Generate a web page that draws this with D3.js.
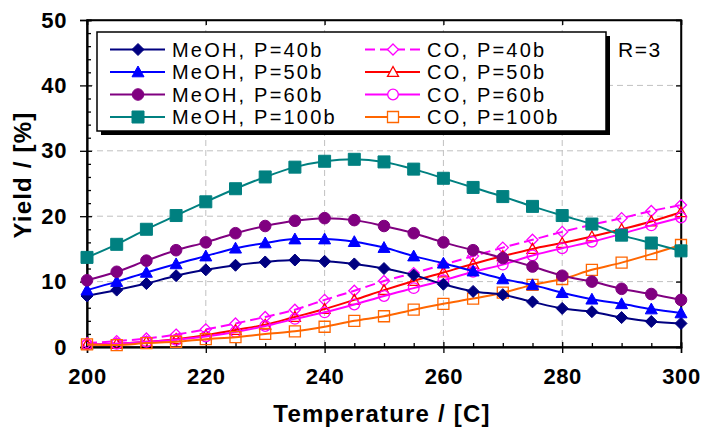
<!DOCTYPE html>
<html>
<head>
<meta charset="utf-8">
<script src="https://cdn.jsdelivr.net/npm/d3@7.9.0/dist/d3.min.js"></script>
<style>
  html, body { margin: 0; padding: 0; background: #fff; }
  text { font-family: Arial, "Liberation Sans", sans-serif; }
</style>
</head>
<body>
<div id="chart"></div>
<script>
// Reaction temperature, C
const temperature = [200, 205, 210, 215, 220, 225, 230, 235, 240, 245, 250,
                     255, 260, 265, 270, 275, 280, 285, 290, 295, 300];

// Methanol yield, %
const meoh40  = [7.8, 8.7, 9.7, 10.9, 11.8, 12.5, 13.0, 13.3, 13.1, 12.7, 12.0,
                 11.0, 9.6, 8.5, 8.0, 6.9, 5.9, 5.4, 4.5, 3.9, 3.6];
const meoh50  = [8.7, 10.0, 11.4, 12.7, 13.9, 15.1, 15.9, 16.5, 16.5, 16.1, 15.2,
                 13.9, 12.8, 11.6, 10.4, 9.5, 8.3, 7.3, 6.6, 5.8, 5.2];
const meoh60  = [10.2, 11.5, 13.2, 14.8, 16.0, 17.4, 18.5, 19.3, 19.7, 19.4, 18.5,
                 17.4, 16.0, 14.8, 13.6, 12.3, 10.9, 10.0, 8.9, 8.1, 7.2];
const meoh100 = [13.7, 15.7, 18.0, 20.1, 22.2, 24.2, 26.0, 27.5, 28.4, 28.7, 28.3,
                 27.2, 25.8, 24.4, 23.0, 21.5, 20.1, 18.8, 17.1, 15.9, 14.7];

// CO yield, %
const co40  = [0.6, 0.9, 1.3, 1.9, 2.7, 3.6, 4.6, 5.7, 7.2, 8.6, 10.1,
               11.3, 12.6, 13.9, 15.2, 16.4, 17.6, 18.7, 19.7, 20.8, 21.7];
const co50  = [0.4, 0.5, 0.8, 1.2, 1.8, 2.6, 3.4, 4.6, 5.8, 7.2, 8.7,
               10.1, 11.4, 12.7, 13.9, 15.0, 15.9, 16.9, 18.0, 19.2, 20.6];
const co60  = [0.4, 0.5, 0.8, 1.1, 1.6, 2.3, 3.2, 4.3, 5.3, 6.5, 7.8,
               9.0, 10.2, 11.5, 12.6, 14.0, 15.1, 16.1, 17.3, 18.6, 19.8];
const co100 = [0.4, 0.3, 0.6, 0.8, 1.2, 1.5, 2.0, 2.4, 3.1, 4.0, 4.7,
               5.7, 6.6, 7.4, 8.3, 9.5, 10.4, 11.8, 12.9, 14.2, 15.6];

const xTicks = [200, 220, 240, 260, 280, 300];
const yTicks = [0, 10, 20, 30, 40, 50];

// drawn CO first so the MeOH markers sit on top, like the original
const series = [
  {name: "CO, P=40b",    values: co40,    color: "#ff00ff", shape: "diamond",  open: true,  dash: "10,5"},
  {name: "CO, P=50b",    values: co50,    color: "#ff0000", shape: "triangle", open: true},
  {name: "CO, P=60b",    values: co60,    color: "#ff00ff", shape: "circle",   open: true},
  {name: "CO, P=100b",   values: co100,   color: "#ff6600", shape: "square",   open: true},
  {name: "MeOH, P=40b",  values: meoh40,  color: "#000080", shape: "diamond"},
  {name: "MeOH, P=50b",  values: meoh50,  color: "#0000ff", shape: "triangle"},
  {name: "MeOH, P=60b",  values: meoh60,  color: "#800080", shape: "circle"},
  {name: "MeOH, P=100b", values: meoh100, color: "#008080", shape: "square"}
];

function markerPath(shape, r) {
  if (shape === "diamond") return `M0,${-r}L${r},0L0,${r}L${-r},0Z`;
  if (shape === "square") return `M${-r},${-r}H${r}V${r}H${-r}Z`;
  if (shape === "triangle") return `M0,${-r}L${r},${r * 0.8}L${-r},${r * 0.8}Z`;
  return d3.arc()({innerRadius: 0, outerRadius: r, startAngle: 0, endAngle: 2 * Math.PI});
}
const markerSize = {diamond: 6, square: 6, triangle: 6, circle: 5.8};
const openSize = {diamond: 5.5, square: 5.5, triangle: 5.5, circle: 5.3};

const margin = {top: 20, right: 20, bottom: 85, left: 87},
    width = 701 - margin.left - margin.right,
    height = 432 - margin.top - margin.bottom;

const svg = d3.select("#chart")
  .append("svg")
    .attr("width", width + margin.left + margin.right)
    .attr("height", height + margin.top + margin.bottom)
  .append("g")
    .attr("transform", `translate(${margin.left}, ${margin.top})`);

const x = d3.scaleLinear().domain([200, 300]).range([0, width]);
const y = d3.scaleLinear().domain([0, 50]).range([height, 0]);

// dashed grid
svg.append("g")
  .selectAll("line")
  .data(yTicks.slice(1, -1))
  .join("line")
    .attr("x1", 0).attr("x2", width)
    .attr("y1", d => y(d)).attr("y2", d => y(d))
    .attr("stroke", "#c0c0c0").attr("stroke-dasharray", "6,4");
svg.append("g")
  .selectAll("line")
  .data(xTicks.slice(1, -1))
  .join("line")
    .attr("y1", 0).attr("y2", height)
    .attr("x1", d => x(d)).attr("x2", d => x(d))
    .attr("stroke", "#c0c0c0").attr("stroke-dasharray", "6,4");

// minor ticks
svg.append("g")
  .attr("transform", `translate(0, ${height})`)
  .call(d3.axisBottom(x).tickValues(d3.range(205, 300, 5).filter(d => d % 20)).tickSize(-4).tickFormat(""));
svg.append("g")
  .call(d3.axisLeft(y).tickValues(d3.range(2, 50, 2).filter(d => d % 10)).tickSize(-4).tickFormat(""));

// major ticks, crossing the axes
svg.append("g")
  .attr("transform", `translate(0, ${height})`)
  .call(d3.axisBottom(x).tickValues(xTicks).tickSize(-5).tickFormat(""));
svg.append("g")
  .call(d3.axisLeft(y).tickValues(yTicks).tickSize(-5).tickFormat(""));
svg.append("g")
  .call(d3.axisTop(x).tickValues(xTicks).tickSize(-5).tickFormat(""));
svg.append("g")
  .attr("transform", `translate(${width}, 0)`)
  .call(d3.axisRight(y).tickValues(yTicks).tickSize(-5).tickFormat(""));

const xAxis = svg.append("g")
  .attr("transform", `translate(0, ${height})`)
  .call(d3.axisBottom(x).tickValues(xTicks).tickSize(6).tickPadding(24));
const yAxis = svg.append("g")
  .call(d3.axisLeft(y).tickValues(yTicks).tickSize(7).tickPadding(13));

svg.selectAll(".domain").attr("stroke", "#000").attr("stroke-width", 1.5);
svg.selectAll(".tick line").attr("stroke", "#000").attr("stroke-width", 1.3);
xAxis.selectAll("text").attr("dy", "0.3em");
[xAxis, yAxis].forEach(a => a.selectAll("text")
  .attr("font-size", 22).attr("font-weight", "bold").attr("fill", "#000")
  .attr("font-family", "Arial, 'Liberation Sans', sans-serif")
  .style("letter-spacing", "0.6px"));

// frame
svg.append("rect")
  .attr("width", width).attr("height", height)
  .attr("fill", "none").attr("stroke", "#000").attr("stroke-width", 1.5);

// series
const line = d3.line()
  .x((d, i) => x(temperature[i]))
  .y(d => y(d))
  .curve(d3.curveMonotoneX);

series.forEach(s => {
  const g = svg.append("g");
  g.append("path")
    .datum(s.values)
    .attr("d", line)
    .attr("fill", "none")
    .attr("stroke", s.color)
    .attr("stroke-width", 2)
    .attr("stroke-dasharray", s.dash || null);
  g.selectAll("path.pt")
    .data(s.values)
    .join("path")
      .attr("class", "pt")
      .attr("transform", (d, i) => `translate(${x(temperature[i])}, ${y(d)})`)
      .attr("d", markerPath(s.shape, s.open ? openSize[s.shape] : markerSize[s.shape]))
      .attr("fill", s.open ? "none" : s.color)
      .attr("stroke", s.color)
      .attr("stroke-width", s.open ? 1.3 : 1);
});

// axis titles
svg.append("text")
  .attr("x", width / 2 - 2).attr("y", height + 75)
  .attr("text-anchor", "middle")
  .attr("font-size", 24).attr("font-weight", "bold")
  .style("letter-spacing", "1.2px")
  .text("Temperature / [C]");
svg.append("text")
  .attr("transform", `translate(${-64}, ${175 - margin.top}) rotate(-90)`)
  .attr("text-anchor", "middle")
  .attr("dy", "0.35em")
  .attr("font-size", 24).attr("font-weight", "bold")
  .style("letter-spacing", "1.2px")
  .text("Yield / [%]");

// legend with drop shadow
const legend = svg.append("g").attr("transform", `translate(${97 - margin.left}, ${32 - margin.top})`);
legend.append("rect")
  .attr("x", 4).attr("y", 4).attr("width", 509).attr("height", 99)
  .attr("fill", "#000");
legend.append("rect")
  .attr("width", 509).attr("height", 99)
  .attr("fill", "#fff").attr("stroke", "#000").attr("stroke-width", 1.5);

const legendOrder = [4, 5, 6, 7, 0, 1, 2, 3];
legendOrder.forEach((k, j) => {
  const s = series[k];
  const col = Math.floor(j / 4), row = j % 4;
  const gx = col === 0 ? 13 : 268;
  const gy = 17.5 + row * 22.5;
  const item = legend.append("g").attr("transform", `translate(${gx}, ${gy})`);
  item.append("line")
    .attr("x1", 0).attr("x2", 55)
    .attr("stroke", s.color).attr("stroke-width", 2)
    .attr("stroke-dasharray", s.dash || null);
  item.append("path")
    .attr("transform", "translate(28, 0)")
    .attr("d", markerPath(s.shape, s.open ? openSize[s.shape] : markerSize[s.shape]))
    .attr("fill", s.open ? "#fff" : s.color)
    .attr("stroke", s.color)
    .attr("stroke-width", s.open ? 1.3 : 1);
  item.append("text")
    .attr("x", 62).attr("dy", "0.36em")
    .attr("font-size", 20)
    .style("letter-spacing", "2.2px")
    .text(s.name);
});

svg.append("text")
  .attr("x", 618 - margin.left).attr("y", 49 - margin.top)
  .attr("dy", "0.36em")
  .attr("font-size", 21)
  .style("letter-spacing", "1.5px")
  .text("R=3");
</script>
</body>
</html>
